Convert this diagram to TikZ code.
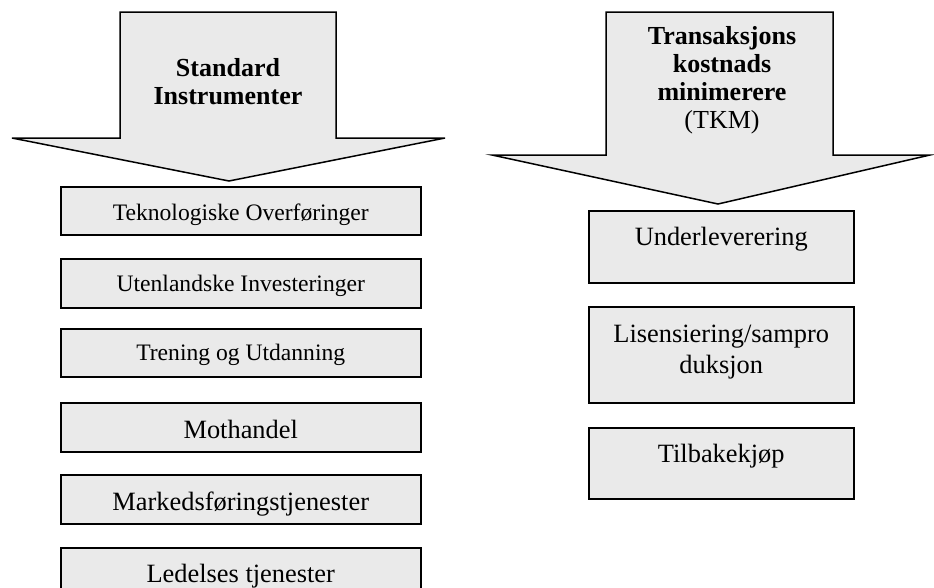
\documentclass[tikz,border=0pt]{standalone}
\usepackage{fontspec}
\setmainfont{Liberation Serif}
\usetikzlibrary{calc}
\definecolor{boxgray}{HTML}{EAEAEA}
\tikzset{
  bigarrow/.style={draw=black, fill=boxgray, line width=1.5pt, line join=miter},
  itembox/.style={draw=black, fill=boxgray, line width=1.5pt, rectangle,
    inner sep=0pt, anchor=north west},
  smalltext/.style={font=\fontsize{23.6}{28}\selectfont, anchor=base, inner sep=0pt},
  bigtext/.style={font=\fontsize{26.4}{31}\selectfont, anchor=base, inner sep=0pt, align=center},
  headtext/.style={font=\bfseries\fontsize{26}{28}\selectfont, anchor=base, inner sep=0pt, align=center},
}
\begin{document}
\begin{tikzpicture}[x=1pt,y=-1pt]
\useasboundingbox (0,0) rectangle (934,587);
\clip (0,0) rectangle (934,587);

% left block arrow (multi-line nodes are placed by the baseline of their last line)
\path[bigarrow] (120,12) -- (336,12) -- (336,138) -- (445,138) -- (229,181)
  -- (12,138) -- (120,138) -- cycle;
\node[headtext] (hleft) at (228,104) {Standard\\Instrumenter};

% right block arrow
\path[bigarrow] (606,12) -- (833,12) -- (833,155) -- (930,155) -- (718,204)
  -- (492,155) -- (606,155) -- cycle;
\node[headtext] (hright) at (722,128) {Transaksjons\\kostnads\\minimerere\\{\mdseries (TKM)}};

% standard instruments
\node[itembox, minimum width=360pt, minimum height=48pt] (b1) at (60,186) {};
\node[itembox, minimum width=360pt, minimum height=49pt] (b2) at (60,258) {};
\node[itembox, minimum width=360pt, minimum height=48pt] (b3) at (60,328) {};
\node[itembox, minimum width=360pt, minimum height=49pt] (b4) at (60,402) {};
\node[itembox, minimum width=360pt, minimum height=49pt] (b5) at (60,474) {};
\node[itembox, minimum width=360pt, minimum height=48pt] (b6) at (60,547) {};
\node[smalltext] (t1) at ($(b1.north)+(0,34)$) {Teknologiske Overføringer};
\node[smalltext] (t2) at ($(b2.north)+(0,33)$) {Utenlandske Investeringer};
\node[smalltext] (t3) at ($(b3.north)+(0,32)$) {Trening og Utdanning};
\node[bigtext] (t4) at ($(b4.north)+(0,36)$) {Mothandel};
\node[bigtext] (t5) at ($(b5.north)+(0,36)$) {Markedsføringstjenester};
\node[bigtext] (t6) at ($(b6.north)+(0,35)$) {Ledelses tjenester};

% transaction cost minimisers
\node[itembox, minimum width=265pt, minimum height=72pt] (r1) at (588,210) {};
\node[itembox, minimum width=265pt, minimum height=96pt] (r2) at (588,306) {};
\node[itembox, minimum width=265pt, minimum height=71pt] (r3) at (588,427) {};
\node[bigtext] (s1) at ($(r1.north)+(0,35)$) {Underleverering};
\node[bigtext] (s2) at ($(r2.north)+(0,67)$) {Lisensiering/sampro\\duksjon};
\node[bigtext] (s3) at ($(r3.north)+(0,35)$) {Tilbakekjøp};
\end{tikzpicture}
\end{document}
